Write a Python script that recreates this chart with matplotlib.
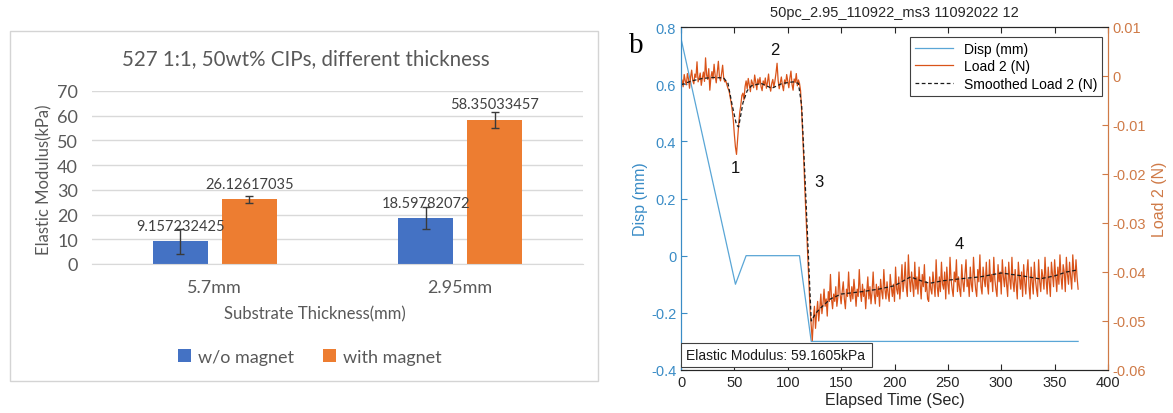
import numpy as np
import matplotlib.pyplot as plt
from matplotlib.patches import Rectangle
from matplotlib.ticker import FuncFormatter

plt.rcParams['font.family'] = ['Liberation Sans', 'DejaVu Sans']

# --- left panel: Excel bar chart ---
categories = ['5.7mm', '2.95mm']
modulus_no_magnet = [9.157232425, 18.59782072]
modulus_magnet = [26.12617035, 58.35033457]
err_no_magnet = [5.0, 4.5]
err_magnet = [1.3, 3.3]

# --- right panel: MATLAB test trace ---
disp_t = [0, 51, 61, 111, 122, 372]
disp_mm = [0.76, -0.1, 0, 0, -0.3, -0.3]

load_dt = 1  # s between samples, one row = 10 s
load_mN = [
    -1.5, -0.8, -2.2, 0.3, -1.0, -1.8, 0.5, -0.6, -2.5, -0.2,
    1.2, -0.9, -1.6, 0.4, -0.3, 2.9, -1.2, -0.5, 0.6, -1.9,
    -0.4, 0.8, -1.1, 3.7, 0.2, -0.7, 1.5, -2.9, -0.3, 0.9,
    -0.6, 2.4, 0.1, -1.4, 0.7, 3.0, -0.2, -1.0, 0.5, 2.2,
    -0.5, -1.2, -1.0, -1.8, -2.5, -3.0, -4.2, -5.5, -7.0, -9.0,
    -12.0, -14.5, -16.0, -13.0, -10.0, -7.5, -6.0, -4.0, -3.5, -4.9,
    -2.2, -1.0, -2.6, -0.5, -1.8, -3.2, -0.8, -1.5, -2.4, 0.2,
    -1.2, -2.8, -0.6, -1.7, -0.3, -2.2, -3.0, -1.0, -1.9, -0.4,
    -2.5, -1.3, 0.4, -2.0, -3.1, -1.5, -0.7, -2.3, -1.0, 0.6,
    2.6, -0.9, -2.6, -1.4, -0.2, -1.9, -3.0, -0.8, -1.6, 0.3,
    -1.1, -2.4, -0.4, 1.0, -1.7, -2.9, -0.6, -1.3, 0.5, -2.0,
    -0.8, -1.5, -3.0, -7.0, -12.0, -17.0, -23.0, -28.0, -33.0, -38.0,
    -43.0, -48.0, -51.0, -54.0, -49.5, -47.0, -51.5, -48.5, -46.0, -50.0,
    -47.5, -44.5, -48.5, -46.5, -43.5, -47.0, -45.5, -49.0, -44.0, -46.0,
    -40.5, -45.5, -47.5, -44.5, -46.0, -43.0, -47.0, -45.0, -40.0, -44.5,
    -46.5, -44.0, -42.0, -45.5, -47.5, -43.5, -45.0, -40.0, -44.5, -46.0,
    -43.0, -45.5, -41.5, -44.0, -47.0, -43.5, -45.0, -39.5, -44.0, -46.0,
    -42.5, -45.0, -43.5, -47.5, -44.0, -41.0, -45.5, -43.0, -46.5, -44.0,
    -40.0, -44.5, -46.5, -42.5, -45.0, -43.0, -47.0, -41.5, -44.0, -45.5,
    -39.5, -43.5, -45.5, -42.0, -44.5, -46.0, -40.5, -43.0, -45.0, -42.5,
    -46.0, -39.0, -43.5, -44.5, -41.0, -45.5, -42.5, -38.5, -44.0, -42.0,
    -38.0, -43.0, -45.0, -36.5, -41.5, -44.0, -40.0, -42.5, -45.0, -38.0,
    -43.5, -41.0, -44.5, -39.0, -42.5, -45.5, -40.5, -43.0, -38.5, -44.0,
    -42.0, -45.5, -46.0, -41.0, -43.5, -44.5, -40.0, -42.5, -45.0, -37.5,
    -43.0, -45.0, -41.0, -44.0, -38.0, -42.5, -43.5, -40.0, -45.5, -39.0,
    -42.5, -44.5, -37.0, -41.5, -43.5, -45.0, -40.0, -42.0, -37.5, -44.0,
    -41.0, -43.5, -45.0, -38.5, -42.0, -44.0, -40.5, -37.5, -43.0, -41.5,
    -45.0, -39.0, -42.5, -44.0, -37.0, -41.0, -43.5, -45.0, -39.5, -42.0,
    -36.5, -43.0, -44.5, -39.0, -41.5, -43.0, -38.0, -42.5, -44.5, -37.5,
    -42.0, -40.5, -44.0, -37.0, -41.5, -43.5, -45.0, -38.5, -42.0, -40.0,
    -44.5, -37.5, -41.0, -43.0, -39.0, -42.5, -45.0, -38.0, -41.5, -43.5,
    -37.0, -42.0, -44.0, -39.5, -42.5, -45.5, -38.0, -41.0, -43.5, -40.0,
    -45.0, -38.5, -42.0, -44.5, -40.0, -37.5, -43.0, -45.5, -39.0, -42.0,
    -44.5, -38.0, -41.5, -43.5, -45.0, -37.5, -42.0, -44.0, -39.5, -41.0,
    -43.5, -37.0, -41.5, -44.5, -39.0, -42.0, -45.0, -38.0, -40.5, -43.0,
    -37.5, -41.0, -44.0, -39.0, -42.5, -36.5, -41.0, -43.5, -38.5, -40.0,
    -44.0, -37.0, -40.5, -42.5, -38.0, -41.0, -43.5, -36.5, -40.0, -42.0,
    -37.5, -41.0, -43.5,
]
smooth_t = [0, 10, 20, 30, 40, 44, 48, 52, 54, 58, 62, 66, 75, 85, 95, 105,
            110, 113, 116, 119, 122, 126, 130, 140, 150, 170, 185, 200, 215,
            225, 233, 245, 261, 280, 300, 320, 336, 350, 361, 371]
smooth_mN = [-1.8, -1.0, -0.5, -0.3, -0.4, -1.5, -6, -10, -10.4, -5.5, -3,
             -2, -1.5, -2.5, -1.5, -1.2, -1.5, -6, -20, -35, -50, -48.5,
             -47.5, -45.5, -44.5, -44, -43.5, -42.8, -41, -41.8, -42.3, -41.8,
             -41.4, -41, -40.2, -40.8, -41.4, -40.8, -40, -39.6]

W, H = 1173, 414
fig = plt.figure(figsize=(W / 100, H / 100), dpi=100)

def fx(px): return px / W
def fy(py): return 1 - py / H

grey = '#595959'
fig.patches.append(Rectangle((fx(10), fy(382)), fx(588), 350 / H, transform=fig.transFigure,
                             fill=False, edgecolor='#d4d4d4', lw=1))

ax1 = fig.add_axes([fx(92), fy(265), fx(491), 173 / H])
x = np.arange(len(categories))
w, off = 0.224, 0.1405
ekw = dict(ecolor='#3a3a3a', lw=1, capsize=3, capthick=1)
b1 = ax1.bar(x - off, modulus_no_magnet, w, yerr=err_no_magnet, color='#4472C4',
             error_kw=ekw, label='w/o magnet', zorder=2)
b2 = ax1.bar(x + off, modulus_magnet, w, yerr=err_magnet, color='#ED7D31',
             error_kw=ekw, label='with magnet', zorder=2)
for bars, vals in ((b1, modulus_no_magnet), (b2, modulus_magnet)):
    for r, v in zip(bars, vals):
        ax1.annotate(f'{v:.10g}', (r.get_x() + r.get_width() / 2, v), xytext=(0, 6),
                     textcoords='offset points', ha='center', va='bottom',
                     fontsize=10.5, color='#404040', family='Lato', zorder=3)
ax1.set_xlim(-0.5, 1.5)
ax1.set_ylim(0, 70)
ax1.set_yticks(range(0, 71, 10))
ax1.set_xticks(x)
ax1.set_xticklabels(categories)
ax1.yaxis.grid(True, color='#d9d9d9', lw=1, zorder=0)
ax1.set_axisbelow(True)
for s in ('top', 'right', 'left'):
    ax1.spines[s].set_visible(False)
ax1.spines['bottom'].set_color('#d9d9d9')
ax1.tick_params(length=0, labelcolor=grey, labelsize=13)
ax1.tick_params(axis='x', pad=11)
ax1.tick_params(axis='y', pad=10)
for lab in ax1.get_xticklabels() + ax1.get_yticklabels():
    lab.set_family('Lato')
fig.text(fx(306), fy(59), '527 1:1, 50wt% CIPs, different thickness', ha='center',
         va='center', fontsize=14.8, color=grey, family='Lato')
fig.text(fx(44), fy(180), 'Elastic Modulus(kPa)', rotation=90, ha='center', va='center',
         fontsize=12, color=grey, family='Lato')
fig.text(fx(315), fy(314), 'Substrate Thickness(mm)', ha='center', va='center',
         fontsize=12, color=grey, family='Lato')
ax1.legend(loc='center', bbox_to_anchor=(fx(310), fy(358)), bbox_transform=fig.transFigure,
           ncol=2, frameon=False, handlelength=0.7, handleheight=0.7, handletextpad=0.4,
           columnspacing=1.6, prop=dict(family='Lato', size=13), labelcolor=grey)

# right panel
blue_ax, blue_ln = '#3a8cc6', '#5aa6d6'
orange, orange_ax = '#D95319', '#cf7a47'
ax2 = fig.add_axes([fx(681), fy(371), fx(427), 343 / H])
l1, = ax2.plot(disp_t, disp_mm, color=blue_ln, lw=0.9, label='Disp (mm)')
ax2.set_xlim(0, 400)
ax2.set_ylim(-0.4, 0.8)
ax2.set_xticks(range(0, 401, 50))
ax2.set_yticks([-0.4, -0.2, 0, 0.2, 0.4, 0.6, 0.8])
ax2.yaxis.set_major_formatter(FuncFormatter(lambda v, _: f'{round(v, 2):g}'))
ax2.tick_params(axis='x', direction='in', top=True, length=4, labelsize=10.5, colors='#262626')
ax2.tick_params(axis='y', direction='in', length=4, labelsize=10.5, colors=blue_ax)
ax2.set_xlabel('Elapsed Time (Sec)', fontsize=11.5, color='#262626', labelpad=2)
ax2.set_ylabel('Disp (mm)', fontsize=11.5, color=blue_ax, labelpad=2)
ax2.set_title('50pc_2.95_110922_ms3 11092022 12', fontsize=10.5, color='#262626', pad=8)

ax3 = ax2.twinx()
load_t = np.arange(len(load_mN)) * load_dt
l2, = ax3.plot(load_t, np.array(load_mN) / 1000, color=orange, lw=0.9, label='Load 2 (N)')
l3, = ax3.plot(smooth_t, np.array(smooth_mN) / 1000, color='#1a1a1a', lw=0.9,
               ls=(0, (3, 2)), label='Smoothed Load 2 (N)')
ax3.set_ylim(-0.06, 0.01)
ax3.set_yticks([-0.06, -0.05, -0.04, -0.03, -0.02, -0.01, 0, 0.01])
ax3.yaxis.set_major_formatter(FuncFormatter(lambda v, _: f'{round(v, 3):g}'))
ax3.tick_params(axis='y', direction='in', length=4, labelsize=10.5, colors=orange_ax)
ax3.set_ylabel('Load 2 (N)', fontsize=11.5, color=orange_ax, labelpad=4)
for a in (ax2, ax3):
    a.spines['left'].set_color(blue_ax)
    a.spines['right'].set_color(orange_ax)
    a.spines['top'].set_color('#262626')
    a.spines['bottom'].set_color('#262626')
    for s in a.spines.values():
        s.set_linewidth(0.8)

leg = ax3.legend(handles=[l1, l2, l3], loc='upper right', bbox_to_anchor=(1 - 6 / 427, 1 - 10 / 343),
                 borderaxespad=0, fancybox=False, edgecolor='#404040', framealpha=1,
                 fontsize=10, handlelength=2.7, labelspacing=0.25, borderpad=0.35)
leg.get_frame().set_linewidth(0.8)

ax3.add_patch(Rectangle((0, 3 / 343), 191 / 427, 24 / 343, transform=ax2.transAxes,
                        facecolor='white', edgecolor='#404040', lw=0.8, zorder=5))
ax3.text(95 / 427, 15 / 343, 'Elastic Modulus: 59.1605kPa', transform=ax2.transAxes,
         ha='center', va='center', fontsize=10, color='#1a1a1a', zorder=6)

for lab, tx, ty in (('1', 50.5, 0.307), ('2', 88, 0.723), ('3', 129, 0.258), ('4', 261, 0.041)):
    ax3.text(tx, ty, lab, transform=ax2.transData, ha='center', va='center', fontsize=12,
             color='#111111')

fig.text(fx(636), fy(46), 'b', ha='center', va='center', fontsize=21, family='Liberation Serif')

fig.savefig('out.png', dpi=100)
